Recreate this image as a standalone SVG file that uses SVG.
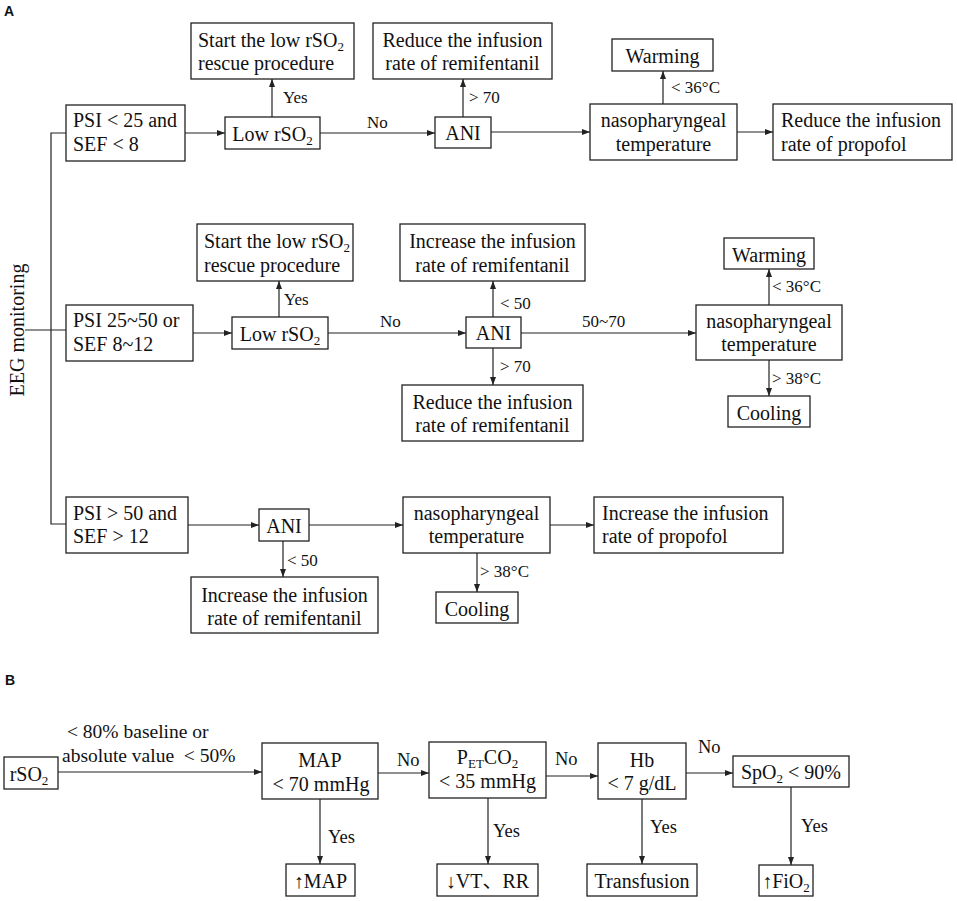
<svg xmlns="http://www.w3.org/2000/svg" width="957" height="901" viewBox="0 0 957 901">
<defs>
<marker id="ah" markerUnits="userSpaceOnUse" markerWidth="8" markerHeight="6" refX="8" refY="3" orient="auto">
<path d="M0,0 L8,3 L0,6 z" fill="#222"/>
</marker>
<style>
rect{fill:#fff;stroke:#222;stroke-width:1.3}
text{font-family:"Liberation Serif","Times New Roman","Noto Sans CJK SC",serif;font-size:20px;fill:#111}
.c{text-anchor:middle}
.lb{font-family:"Liberation Serif","Times New Roman",serif;font-size:17px}
.lb2{font-family:"Liberation Serif","Times New Roman",serif;font-size:18.5px}
.pl{font-family:"Liberation Sans",Arial,sans-serif;font-weight:bold;font-size:14px}
.ln{fill:none;stroke:#222;stroke-width:1.2}
.ar{fill:none;stroke:#222;stroke-width:1.2;marker-end:url(#ah)}
.sub{font-size:13px}
</style>
</defs>
<rect x="0" y="0" width="957" height="901" style="fill:#fff;stroke:none"/>
<text class="pl" x="4" y="16">A</text>
<text class="pl" x="5" y="685">B</text>
<text x="24" y="330" class="c" font-family="Liberation Serif, serif" transform="rotate(-90 24 330)">EEG monitoring</text>

<g id="connectors">
<path class="ln" d="M25,330 H66"/>
<path class="ln" d="M66,133 H51 V524 H66"/>
<path class="ar" d="M185,133 H225"/>
<path class="ar" d="M272,117 V79"/>
<path class="ar" d="M320,133 H435"/>
<path class="ar" d="M463,117 V79"/>
<path class="ar" d="M491,132 H590"/>
<path class="ar" d="M663,104 V71"/>
<path class="ar" d="M737,132 H773"/>
<path class="ar" d="M193,333 H232"/>
<path class="ar" d="M279,317 V281"/>
<path class="ar" d="M328,333 H466"/>
<path class="ar" d="M493,317 V281"/>
<path class="ar" d="M493,348 V385"/>
<path class="ar" d="M521,333 H696"/>
<path class="ar" d="M769,305 V269"/>
<path class="ar" d="M769,360 V396"/>
<path class="ar" d="M188,525 H259"/>
<path class="ar" d="M283,541 V577"/>
<path class="ar" d="M309,525 H403"/>
<path class="ar" d="M477,553 V592"/>
<path class="ar" d="M550,525 H594"/>
<path class="ar" d="M58,772 H262"/>
<path class="ar" d="M378,773 H429"/>
<path class="ar" d="M320,799 V864"/>
<path class="ar" d="M546,776 H598"/>
<path class="ar" d="M488,798 V864"/>
<path class="ar" d="M686,773 H733"/>
<path class="ar" d="M642,799 V864"/>
<path class="ar" d="M791,787 V865"/>
<text class="lb" x="283" y="103">Yes</text>
<text class="lb" x="367" y="128">No</text>
<text class="lb" x="469" y="103">&gt; 70</text>
<text class="lb" x="671" y="93">&lt; 36°C</text>
<text class="lb" x="284" y="305">Yes</text>
<text class="lb" x="380" y="327">No</text>
<text class="lb" x="500" y="309">&lt; 50</text>
<text class="lb" x="500" y="372">&gt; 70</text>
<text class="lb" x="582" y="327">50~70</text>
<text class="lb" x="772" y="292">&lt; 36°C</text>
<text class="lb" x="772" y="384">&gt; 38°C</text>
<text class="lb" x="287" y="566">&lt; 50</text>
<text class="lb" x="480" y="577">&gt; 38°C</text>
<text class="lb2" style="font-size:19.5px" x="67" y="738">&lt; 80% baseline or</text>
<text class="lb2" style="font-size:19.5px" x="62" y="762" xml:space="preserve">absolute value  &lt; 50%</text>
<text class="lb2" x="397" y="766">No</text>
<text class="lb2" x="328" y="843">Yes</text>
<text class="lb2" x="555" y="765">No</text>
<text class="lb2" x="493" y="837">Yes</text>
<text class="lb2" x="698" y="753">No</text>
<text class="lb2" x="650" y="833">Yes</text>
<text class="lb2" x="801" y="832">Yes</text>
</g>

<g id="a1-psi">
<rect x="66" y="105" width="119" height="56"/>
<text x="73" y="127">PSI &lt; 25 and</text>
<text x="73" y="151">SEF &lt; 8</text>
</g>
<g id="a1-low">
<rect x="225" y="117" width="95" height="32"/>
<text class="c" x="272.5" y="141">Low rSO<tspan class="sub" dy="4">2</tspan></text>
</g>
<g id="a1-rescue">
<rect x="191" y="23" width="163" height="56"/>
<text x="198" y="46.5">Start the low rSO<tspan class="sub" dy="4">2</tspan></text>
<text x="198" y="70">rescue procedure</text>
</g>
<g id="a1-ani">
<rect x="435" y="117" width="56" height="31"/>
<text class="c" x="463" y="140">ANI</text>
</g>
<g id="a1-reduce-remi">
<rect x="373" y="23" width="179" height="56"/>
<text class="c" x="462.5" y="46.5">Reduce the infusion</text>
<text class="c" x="462.5" y="70">rate of remifentanil</text>
</g>
<g id="a1-naso">
<rect x="590" y="104" width="147" height="56"/>
<text class="c" x="663.5" y="127">nasopharyngeal</text>
<text class="c" x="663.5" y="150.5">temperature</text>
</g>
<g id="a1-warming">
<rect x="612" y="39" width="101" height="32"/>
<text class="c" x="662.5" y="63">Warming</text>
</g>
<g id="a1-reduce-prop">
<rect x="773" y="104" width="179" height="56"/>
<text x="781" y="127">Reduce the infusion</text>
<text x="781" y="150.5">rate of propofol</text>
</g>

<g id="a2-psi">
<rect x="66" y="305" width="127" height="56"/>
<text x="73" y="327">PSI 25~50 or</text>
<text x="73" y="351">SEF 8~12</text>
</g>
<g id="a2-low">
<rect x="232" y="317" width="96" height="32"/>
<text class="c" x="280" y="341">Low rSO<tspan class="sub" dy="4">2</tspan></text>
</g>
<g id="a2-rescue">
<rect x="197" y="224" width="156" height="57"/>
<text x="204" y="248">Start the low rSO<tspan class="sub" dy="4">2</tspan></text>
<text x="204" y="271.5">rescue procedure</text>
</g>
<g id="a2-ani">
<rect x="466" y="317" width="55" height="31"/>
<text class="c" x="493.5" y="340">ANI</text>
</g>
<g id="a2-increase-remi">
<rect x="400" y="224" width="185" height="57"/>
<text class="c" x="492.5" y="248">Increase the infusion</text>
<text class="c" x="492.5" y="271.5">rate of remifentanil</text>
</g>
<g id="a2-reduce-remi">
<rect x="402" y="385" width="181" height="56"/>
<text class="c" x="492.5" y="408.5">Reduce the infusion</text>
<text class="c" x="492.5" y="431.5">rate of remifentanil</text>
</g>
<g id="a2-naso">
<rect x="696" y="305" width="146" height="55"/>
<text class="c" x="769" y="328">nasopharyngeal</text>
<text class="c" x="769" y="351">temperature</text>
</g>
<g id="a2-warming">
<rect x="724" y="238" width="90" height="31"/>
<text class="c" x="769" y="261.5">Warming</text>
</g>
<g id="a2-cooling">
<rect x="728" y="396" width="82" height="31"/>
<text class="c" x="769" y="419.5">Cooling</text>
</g>

<g id="a3-psi">
<rect x="66" y="497" width="122" height="56"/>
<text x="73" y="519.5">PSI &gt; 50 and</text>
<text x="73" y="543">SEF &gt; 12</text>
</g>
<g id="a3-ani">
<rect x="259" y="509" width="50" height="32"/>
<text class="c" x="284" y="533">ANI</text>
</g>
<g id="a3-increase-remi">
<rect x="191" y="577" width="187" height="56"/>
<text class="c" x="284.5" y="601.5">Increase the infusion</text>
<text class="c" x="284.5" y="625">rate of remifentanil</text>
</g>
<g id="a3-naso">
<rect x="403" y="497" width="147" height="56"/>
<text class="c" x="476.5" y="519.5">nasopharyngeal</text>
<text class="c" x="476.5" y="543">temperature</text>
</g>
<g id="a3-cooling">
<rect x="436" y="592" width="82" height="31"/>
<text class="c" x="477" y="615.5">Cooling</text>
</g>
<g id="a3-increase-prop">
<rect x="594" y="497" width="189" height="56"/>
<text x="602" y="520">Increase the infusion</text>
<text x="602" y="543">rate of propofol</text>
</g>

<g id="b-rso2">
<rect x="4" y="757" width="54" height="32"/>
<text class="c" x="29" y="781">rSO<tspan class="sub" dy="4">2</tspan></text>
</g>
<g id="b-map">
<rect x="262" y="743" width="116" height="56"/>
<text class="c" x="320" y="767">MAP</text>
<text class="c" x="321" y="790.5">&lt; 70 mmHg</text>
</g>
<g id="b-upmap">
<rect x="286" y="864" width="69" height="32"/>
<text class="c" x="320.5" y="888">↑MAP</text>
</g>
<g id="b-petco2">
<rect x="429" y="742" width="117" height="56"/>
<text class="c" x="487.5" y="764">P<tspan class="sub" dy="4">ET</tspan><tspan dy="-4">CO</tspan><tspan class="sub" dy="4">2</tspan></text>
<text class="c" x="487.5" y="788">&lt; 35 mmHg</text>
</g>
<g id="b-vtrr">
<rect x="437" y="864" width="101" height="32"/>
<text class="c" x="487.5" y="888">↓VT、RR</text>
</g>
<g id="b-hb">
<rect x="598" y="743" width="88" height="56"/>
<text class="c" x="642" y="766.5">Hb</text>
<text class="c" x="642" y="789.5">&lt; 7 g/dL</text>
</g>
<g id="b-transfusion">
<rect x="587" y="864" width="110" height="32"/>
<text class="c" x="642" y="888">Transfusion</text>
</g>
<g id="b-spo2">
<rect x="733" y="756" width="116" height="31"/>
<text class="c" x="791" y="779">SpO<tspan class="sub" dy="4">2</tspan><tspan dy="-4"> &lt; 90%</tspan></text>
</g>
<g id="b-fio2">
<rect x="759" y="865" width="54" height="31"/>
<text class="c" x="786" y="888">↑FiO<tspan class="sub" dy="4">2</tspan></text>
</g>
</svg>
